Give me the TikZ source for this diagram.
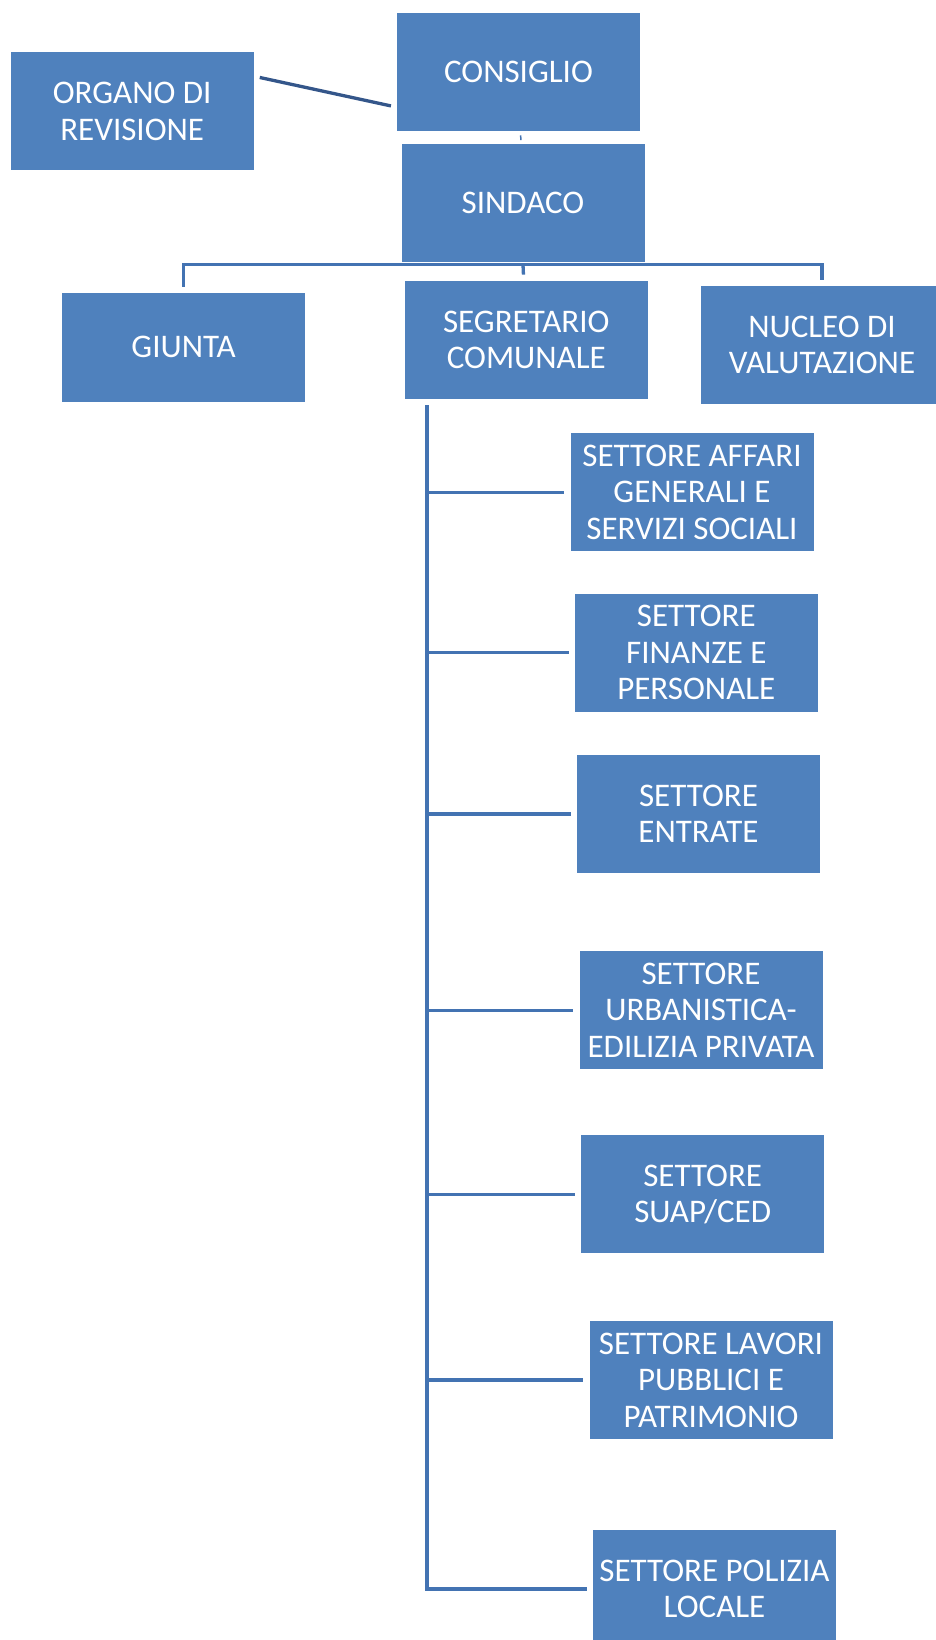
\documentclass[tikz,border=0pt]{standalone}
\usepackage{fontspec}
\setmainfont{Carlito}
\usepackage{tikz}
\usetikzlibrary{arrows}

\definecolor{boxblue}{HTML}{4F81BD}
\definecolor{lineblue}{HTML}{4373B2}
\definecolor{darkline}{HTML}{34568A}

\begin{document}
\begin{tikzpicture}[x=1pt,y=-1pt,
            font=\fontsize{33}{36.5}\selectfont]
            \tikzstyle{ufficio}=[rectangle,fill=boxblue,text=white,align=center,
                inner sep=2pt,minimum width=243pt,minimum height=118pt]
            \tikzstyle{link}=[draw=lineblue,line width=3.3pt]
            \useasboundingbox (0,0) rectangle (936,1640);

            % organi di governo
            \node[ufficio] (organo)     at (132.2,111.2) {ORGANO DI\\REVISIONE};
            \node[ufficio] (consiglio)  at (518.5,72.2)  {CONSIGLIO};
            \node[ufficio] (sindaco)    at (523,203.3)   {SINDACO};
            \node[ufficio,minimum height=109pt] (giunta) at (183.6,347.3) {GIUNTA};
            \node[ufficio] (segretario) at (526.3,339.8) {SEGRETARIO\\COMUNALE};
            \node[ufficio] (nucleo)     at (822,344.8)   {NUCLEO DI\\VALUTAZIONE};

            % settori
            \node[ufficio] (affari)   at (692,492.2)   {SETTORE AFFARI\\GENERALI E\\SERVIZI SOCIALI};
            \node[ufficio] (finanze)  at (696.3,652.5) {SETTORE\\FINANZE E\\PERSONALE};
            \node[ufficio] (entrate)  at (698.5,814)   {SETTORE\\ENTRATE};
            \node[ufficio] (urban)    at (701,1010.2)  {SETTORE\\URBANISTICA-\\EDILIZIA PRIVATA};
            \node[ufficio] (suap)     at (702.7,1194.3){SETTORE\\SUAP/CED};
            \node[ufficio] (lavori)   at (711,1380)    {SETTORE LAVORI\\PUBBLICI E\\PATRIMONIO};
            \node[ufficio] (polizia)  at (714.5,1589)  {SETTORE POLIZIA\\LOCALE};

            \coordinate (trunk) at ([xshift=22pt,yshift=-6pt]segretario.south west);

            \path[link]
                % from consiglio
                ([yshift=35pt]organo.east) edge [draw=darkline,shorten <=6pt,shorten >=6pt]
                    ([yshift=-35pt]consiglio.west)
                (consiglio) edge [line width=1.5pt,shorten <=4pt,shorten >=4pt] (sindaco)

                % from sindaco
                ([yshift=-2pt]sindaco.south) edge [to path={-| (\tikztotarget)},shorten >=6pt] (giunta)
                ([yshift=-2pt]sindaco.south) edge [to path={-| (\tikztotarget)},shorten >=6pt] (nucleo)
                ([yshift=-2pt]sindaco.south) edge [shorten >=6pt] (segretario)

                % from segretario
                (trunk) edge [to path={|- (\tikztotarget)},line width=4pt,shorten >=6pt] (polizia)
                (trunk |- affari)  edge [shorten >=6pt] (affari)
                (trunk |- finanze) edge [shorten >=6pt] (finanze)
                (trunk |- entrate) edge [shorten >=6pt] (entrate)
                (trunk |- urban)   edge [shorten >=6pt] (urban)
                (trunk |- suap)    edge [shorten >=6pt] (suap)
                (trunk |- lavori)  edge [shorten >=6pt] (lavori)
                ;
\end{tikzpicture}
\end{document}
